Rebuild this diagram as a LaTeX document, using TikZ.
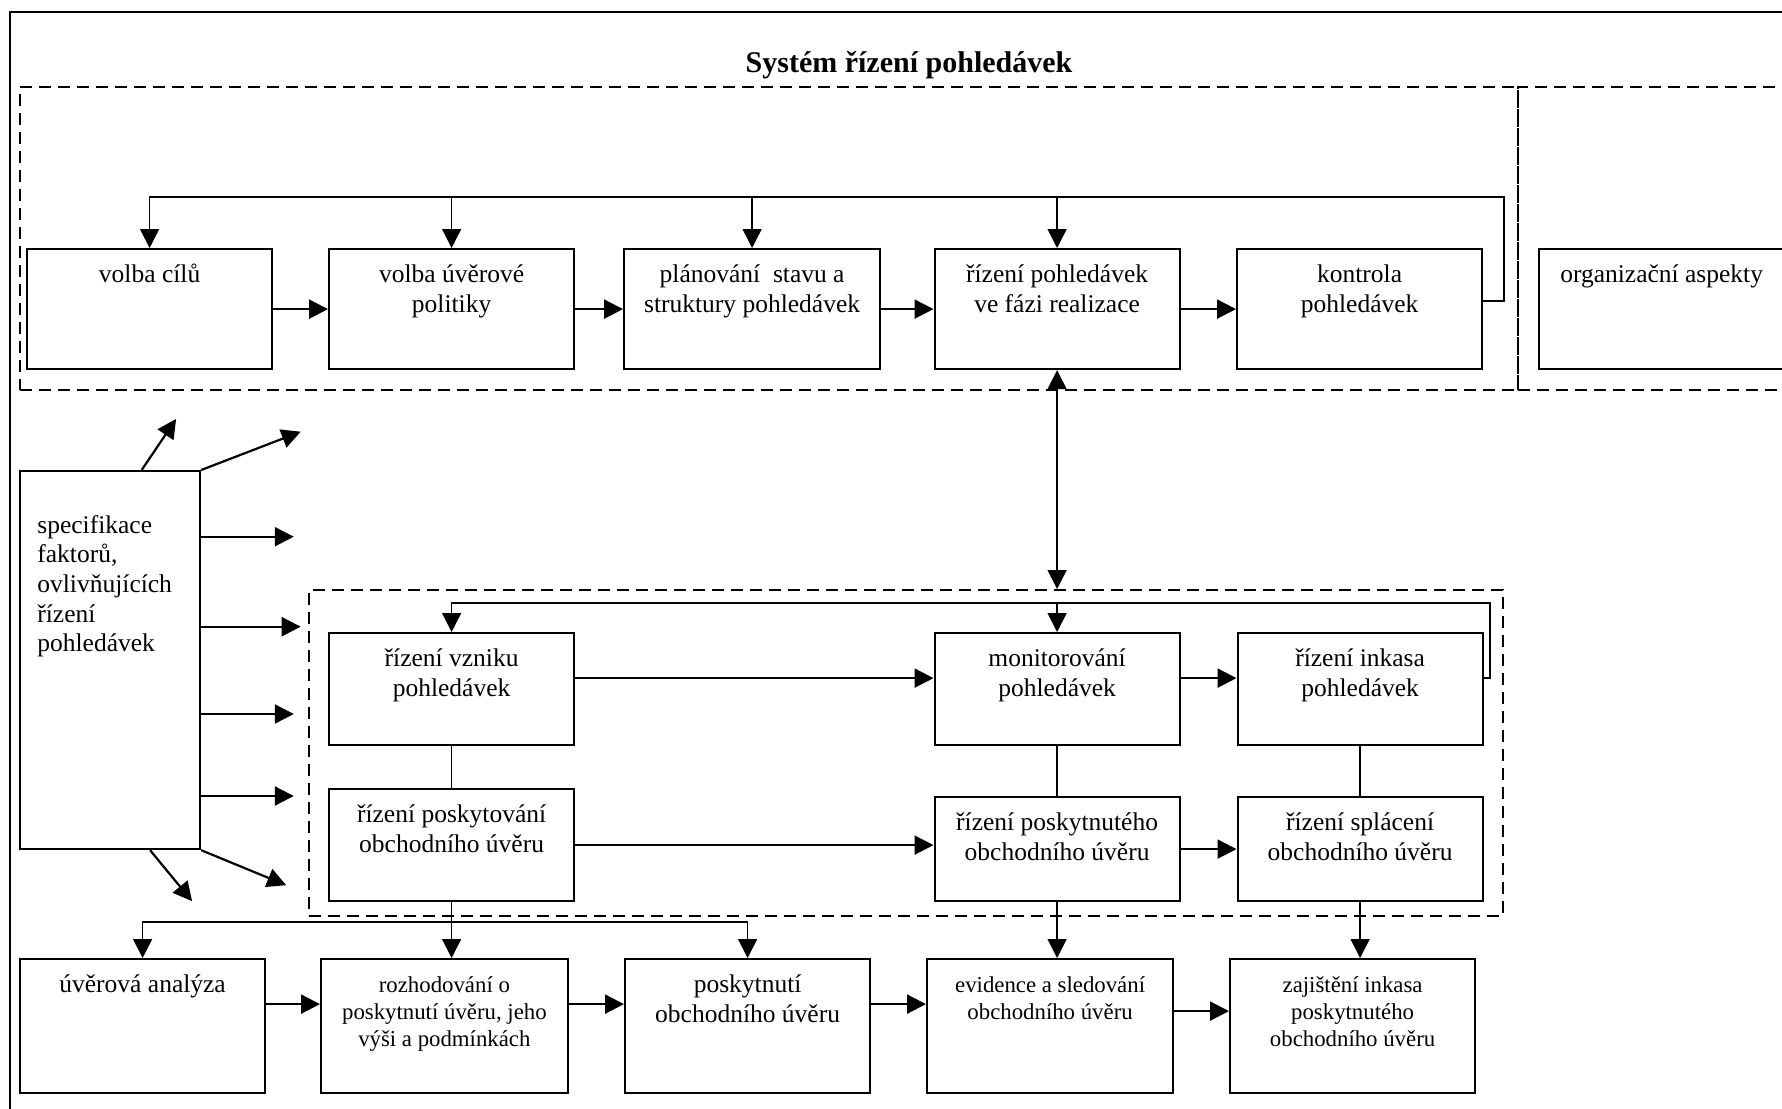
\documentclass[tikz,border=0pt]{standalone}
\usepackage{fontspec}
\setmainfont{Liberation Serif}
\usetikzlibrary{arrows.meta}

\newcommand{\normaltxt}{\fontsize{12.75}{15.2}\selectfont}
\newcommand{\smalltxt}{\fontsize{11.4}{13.6}\selectfont}

\begin{document}
\begin{tikzpicture}[
  x=0.5pt, y=-0.5pt,
  >={Triangle[length=9.5pt, width=9.5pt]},
  box/.style={draw, line width=1.1pt, anchor=north west, inner sep=0pt,
    minimum width=122.5pt, minimum height=60pt},
  txt/.style={label={[font=\normaltxt, align=center, inner sep=2pt,
    anchor=north, yshift=-6pt]north:#1}},
  stxt/.style={label={[font=\smalltxt, align=center, inner sep=2pt,
    anchor=north, yshift=-7pt]north:#1}},
  frame/.style={draw, dash pattern=on 6pt off 3.5pt, line width=0.9pt,
    anchor=north west, inner sep=0pt},
  arr/.style={->, line width=1.1pt},
  farr/.style={->, line width=0.8pt},
  link/.style={line width=0.8pt},
]

\useasboundingbox (0,0) rectangle (1782,1108);

% Outer border
\draw[line width=1pt] (10,12) rectangle (1800,1130);

% Title
\node[font=\fontsize{15}{18}\selectfont\bfseries, anchor=base] (titulek) at (909,72)
  {Systém řízení pohledávek};

% Dashed frames
\node[frame, minimum width=749pt, minimum height=151.5pt] (horni) at (19,86) {};
\node[frame, minimum width=150pt, minimum height=151.5pt] (vpravo) at (1517,86) {};
\node[frame, minimum width=597pt, minimum height=163pt] (dolni) at (308,589) {};

% =============================================
% Top row
% =============================================
\node[box, txt={volba cílů}] (cile) at (26,248) {};
\node[box, txt={volba úvěrové\\politiky}] (politika) at (328,248) {};
\node[box, minimum width=128pt, txt={plánování~ stavu a\\struktury pohledávek}]
  (planovani) at (623,248) {};
\node[box, txt={řízení pohledávek\\ve fázi realizace}] (realizace) at (933.5,248) {};
\node[box, txt={kontrola\\pohledávek}] (kontrola) at (1236,248) {};
\node[box, txt={organizační aspekty}] (organizace) at (1538,248) {};

% Arrows
\draw[arr] (cile) -- (politika);
\draw[arr] (politika) -- (planovani);
\draw[arr] (planovani) -- (realizace);
\draw[arr] (realizace) -- (kontrola);

% Feedback
\coordinate (topbus) at (0,197);
\draw[farr] ([yshift=4pt]kontrola.east) -- ++(20.5,0) |- (topbus -| cile.north) -- (cile.north);
\foreach \n in {politika, planovani, realizace}
  \draw[farr] (topbus -| \n.north) -- (\n.north);

% =============================================
% Factors
% =============================================
\node[box, minimum width=90pt, minimum height=189pt,
  label={[font=\fontsize{12.75}{14.8}\selectfont, align=left, inner sep=2pt,
    anchor=north west, xshift=7pt, yshift=-20.5pt]north west:specifikace\\faktorů,\\ovlivňujících\\řízení\\pohledávek}]
  (specifikace) at (19,470) {};

\draw[arr] ([xshift=15.8pt]specifikace.north) -- ++(34.4,-51);
\draw[arr] (specifikace.north east) -- ++(99.5,-38.3);
\foreach \dy/\len in {33.35/92.6, 78.35/99.5, 122/92.6, 163/92.6}
  \draw[arr] ([yshift=-\dy pt]specifikace.north east) -- ++(\len,0);
\draw[arr] (specifikace.south east) -- ++(85,35);
\draw[arr] ([xshift=20pt]specifikace.south) -- ++(42,51);

% =============================================
% Lower frame
% =============================================
\node[box, minimum height=56pt, txt={řízení vzniku\\pohledávek}] (vznik) at (328,632) {};
\node[box, minimum height=56pt, txt={monitorování\\pohledávek}] (monitor) at (933.5,632) {};
\node[box, minimum height=56pt, txt={řízení inkasa\\pohledávek}] (inkaso) at (1236.5,632) {};
\node[box, minimum height=56pt, txt={řízení poskytování\\obchodního úvěru}]
  (poskytovani) at (328,788) {};
\node[box, minimum height=52pt, txt={řízení poskytnutého\\obchodního úvěru}]
  (poskytnute) at (933.5,796) {};
\node[box, minimum height=52pt, txt={řízení splácení\\obchodního úvěru}]
  (splaceni) at (1236.5,796) {};

\draw[<->, line width=0.8pt] (realizace.south) -- (realizace.south |- dolni.north);

\draw[arr] ([yshift=5.5pt]vznik.east) -- ([yshift=5.5pt]monitor.west);
\draw[arr] ([yshift=5.5pt]monitor.east) -- ([yshift=5.5pt]inkaso.west);
\draw[arr] (poskytovani.east) -- (poskytovani.east -| poskytnute.west);
\draw[arr] (poskytnute) -- (splaceni);

\draw[link] (vznik) -- (poskytovani);
\draw[link] (monitor) -- (poskytnute);
\draw[link] (inkaso) -- (splaceni);

% Feedback
\coordinate (lowbus) at (0,603);
\draw[farr] ([yshift=5.5pt]inkaso.east) -- ++(6.5,0) |- (lowbus -| vznik.north) -- (vznik.north);
\draw[farr] (lowbus -| monitor.north) -- (monitor.north);

% =============================================
% Bottom row
% =============================================
\node[box, minimum height=67pt, txt={úvěrová analýza}] (analyza) at (19,958) {};
\node[box, minimum height=67pt, minimum width=123.3pt,
  stxt={rozhodování o\\poskytnutí úvěru, jeho\\výši a podmínkách}] (rozhodovani) at (320,958) {};
\node[box, minimum height=67pt, txt={poskytnutí\\obchodního úvěru}] (poskytnuti) at (624,958) {};
\node[box, minimum height=67pt, minimum width=123pt,
  stxt={evidence a sledování\\obchodního úvěru}] (evidence) at (926,958) {};
\node[box, minimum height=67pt,
  stxt={zajištění inkasa\\poskytnutého\\obchodního úvěru}] (zajisteni) at (1229,958) {};

\coordinate (bottombus) at (0,921.7);
\draw[farr] (poskytovani.south) -- (poskytovani.south |- rozhodovani.north);
\draw[farr] (poskytovani.south |- bottombus) -| (analyza.north);
\draw[farr] (poskytovani.south |- bottombus) -| (poskytnuti.north);
\draw[farr] (poskytnute.south) -- (poskytnute.south |- evidence.north);
\draw[farr] (splaceni.south) -- (splaceni.south |- zajisteni.north);

\draw[arr] ([yshift=11pt]analyza.east) -- ([yshift=11pt]rozhodovani.west);
\draw[arr] ([yshift=11pt]rozhodovani.east) -- ([yshift=11pt]poskytnuti.west);
\draw[arr] ([yshift=11pt]poskytnuti.east) -- ([yshift=11pt]evidence.west);
\draw[arr] ([yshift=7.5pt]evidence.east) -- ([yshift=7.5pt]zajisteni.west);

\end{tikzpicture}
\end{document}
